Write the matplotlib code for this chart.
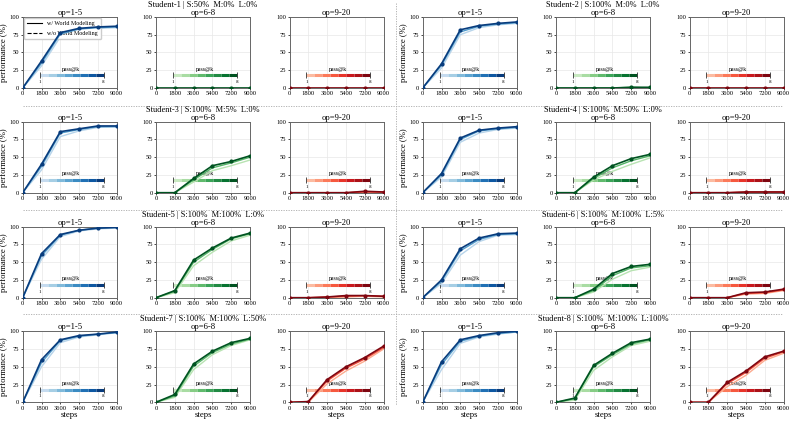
import matplotlib
matplotlib.use("Agg")
import matplotlib.pyplot as plt
from matplotlib.lines import Line2D
import numpy as np

plt.rcParams['font.family'] = ['Liberation Serif', 'DejaVu Serif']

steps = [0, 1800, 3600, 5400, 7200, 9000]
pass_k = [1, 4, 8]           # rows in each panel list: pass@1, pass@4, pass@8
op_titles = ["op=1-5", "op=6-8", "op=9-20"]
students = [
    "Student-1 | S:50%  M:0%  L:0%",
    "Student-2 | S:100%  M:0%  L:0%",
    "Student-3 | S:100%  M:5%  L:0%",
    "Student-4 | S:100%  M:50%  L:0%",
    "Student-5 | S:100%  M:100%  L:0%",
    "Student-6 | S:100%  M:100%  L:5%",
    "Student-7 | S:100%  M:100%  L:50%",
    "Student-8 | S:100%  M:100%  L:100%",
]

s1_op15 = [[0, 31, 72, 80, 84, 85], [0, 35, 76, 83, 85, 86], [0, 38, 78, 84, 86, 87]]
s1_op68 = [[0, 0, 0, 0, 0, 0], [0, 0, 0, 0, 0, 0], [0, 0, 0, 0, 0, 0]]
s1_op920 = [[0, 0, 0, 0, 0, 0], [0, 0, 0, 0, 0, 0], [0, 0, 0, 0, 0, 0]]

s2_op15 = [[0, 28, 75, 85, 89, 91], [0, 32, 79, 87, 90, 92], [0, 34, 82, 88, 91, 93]]
s2_op68 = [[0, 0, 0, 0, 0, 0], [0, 0, 0, 0, 1, 0], [0, 0, 0, 0, 1, 1]]
s2_op920 = [[0, 0, 0, 0, 0, 0], [0, 0, 0, 0, 0, 0], [0, 0, 0, 0, 0, 0]]

s3_op15 = [[0, 32, 79, 87, 92, 93], [0, 37, 84, 89, 93, 93], [0, 40, 86, 90, 94, 94]]
s3_op68 = [[0, 0, 15, 31, 38, 46], [0, 0, 18, 35, 42, 50], [0, 0, 20, 38, 44, 52]]
s3_op920 = [[0, 0, 0, 0, 1, 0], [0, 0, 0, 0, 1, 1], [0, 0, 0, 0, 2, 1]]

s4_op15 = [[0, 22, 71, 84, 89, 91], [0, 25, 75, 87, 90, 92], [0, 27, 77, 88, 91, 93]]
s4_op68 = [[0, 0, 18, 30, 40, 49], [0, 0, 20, 35, 45, 52], [0, 0, 22, 38, 48, 54]]
s4_op920 = [[0, 0, 0, 0, 1, 1], [0, 0, 0, 1, 1, 1], [0, 0, 0, 1, 1, 1]]

s5_op15 = [[0, 54, 86, 94, 97, 98], [0, 59, 88, 95, 98, 99], [0, 62, 89, 95, 98, 99]]
s5_op68 = [[0, 7, 45, 64, 80, 88], [0, 9, 50, 68, 83, 90], [0, 10, 53, 70, 84, 91]]
s5_op920 = [[0, 0, 0, 1, 2, 1], [0, 0, 1, 2, 3, 2], [0, 0, 1, 3, 3, 2]]

s6_op15 = [[0, 20, 60, 79, 88, 89], [0, 23, 66, 82, 89, 90], [0, 25, 69, 84, 90, 91]]
s6_op68 = [[0, 0, 8, 26, 38, 43], [0, 0, 10, 31, 42, 45], [0, 0, 12, 34, 44, 47]]
s6_op920 = [[0, 0, 0, 5, 6, 10], [0, 0, 0, 6, 7, 11], [0, 0, 0, 7, 8, 12]]

s7_op15 = [[0, 50, 84, 92, 95, 98], [0, 56, 87, 93, 96, 98], [0, 60, 88, 94, 96, 99]]
s7_op68 = [[0, 7, 46, 67, 80, 88], [0, 9, 51, 70, 82, 89], [0, 11, 54, 72, 84, 90]]
s7_op920 = [[0, 0, 26, 44, 58, 75], [0, 1, 30, 48, 61, 77], [0, 1, 32, 50, 63, 79]]

s8_op15 = [[0, 46, 83, 92, 96, 99], [0, 53, 86, 93, 97, 99], [0, 57, 88, 94, 98, 100]]
s8_op68 = [[0, 3, 45, 64, 80, 86], [0, 5, 50, 67, 82, 88], [0, 6, 52, 69, 84, 89]]
s8_op920 = [[0, 0, 22, 38, 59, 69], [0, 0, 26, 42, 62, 71], [0, 0, 28, 44, 64, 72]]

panels = [
    [s1_op15, s1_op68, s1_op920], [s2_op15, s2_op68, s2_op920],
    [s3_op15, s3_op68, s3_op920], [s4_op15, s4_op68, s4_op920],
    [s5_op15, s5_op68, s5_op920], [s6_op15, s6_op68, s6_op920],
    [s7_op15, s7_op68, s7_op920], [s8_op15, s8_op68, s8_op920],
]
cmaps = ["Blues", "Greens", "Reds"]

W, H = 793, 422
fig = plt.figure(figsize=(W / 100, H / 100), dpi=100)

col_left = [22.7, 156, 289.5]     # pixels, within one block
block_off = [0, 400]
row_top = [17, 121.7, 226.7, 331.3]
ax_w, ax_h = 94, 71


def px_axes(x, y, w, h):
    return fig.add_axes([x / W, 1 - (y + h) / H, w / W, h / H])


for s, name in enumerate(students):
    r, b = s // 2, s % 2
    for c in range(3):
        ax = px_axes(block_off[b] + col_left[c], row_top[r], ax_w, ax_h)
        cmap = plt.get_cmap(cmaps[c])
        data = panels[s][c]
        for k, vals in zip(pass_k, data):
            col = cmap(0.3 + 0.65 * (k - 1) / 7)
            ax.plot(steps, vals, color=col, lw=1.2 if k == 8 else 1.0,
                    marker="o", ms=2 if k == 8 else 0, zorder=3 + k)
        # pass@k colour strip
        seg = np.linspace(0.18, 0.86, 9)
        for i in range(8):
            ax.plot([seg[i], seg[i + 1]], [0.18, 0.18], transform=ax.transAxes,
                    color=cmap(0.25 + 0.7 * i / 7), lw=2.2,
                    solid_capstyle="butt", zorder=2)
        ax.plot([0.18, 0.86], [0.18, 0.18], transform=ax.transAxes, ls="none",
                marker="|", ms=5, mew=0.6, color="#333333", zorder=2)
        ax.text(0.52, 0.23, "pass@k", transform=ax.transAxes, ha="center",
                va="bottom", fontsize=4.2)
        ax.text(0.18, 0.11, "1", transform=ax.transAxes, ha="center",
                va="top", fontsize=3.6)
        ax.text(0.86, 0.11, "8", transform=ax.transAxes, ha="center",
                va="top", fontsize=3.6)

        ax.set_xlim(0, 9000)
        ax.set_ylim(0, 100)
        ax.set_xticks(steps)
        ax.set_yticks([0, 25, 50, 75, 100])
        ax.tick_params(labelsize=4.7, length=1.5, width=0.5, pad=1)
        ax.grid(True, color="#e8e8e8", lw=0.5)
        for sp in ax.spines.values():
            sp.set_color("#666666")
            sp.set_linewidth(0.7)
        ax.set_title(op_titles[c], fontsize=6.2, pad=1.5)
        if c == 0:
            ax.set_ylabel("performance (%)", fontsize=6.2, labelpad=1)
        if r == 3:
            ax.set_xlabel("steps", fontsize=6.2, labelpad=0.5)
        if s == 0 and c == 0:
            handles = [Line2D([], [], color="black", lw=0.8),
                       Line2D([], [], color="black", lw=0.8, ls="--")]
            ax.legend(handles, ["w/ World Modeling", "w/o World Modeling"],
                      loc="upper left", fontsize=4.3, framealpha=1,
                      handlelength=2.6, borderpad=0.5, labelspacing=0.7,
                      borderaxespad=0.2)
    # student title
    fig.text((block_off[b] + 203) / W, 1 - (row_top[r] - 12) / H, name,
             ha="center", va="center", fontsize=6.0)

# separators
for y in [106, 210, 314]:
    fig.add_artist(Line2D([23 / W, 783 / W], [1 - y / H, 1 - y / H],
                          color="#aaaaaa", lw=0.6, ls=(0, (1.5, 1.5))))
fig.add_artist(Line2D([396 / W, 396 / W], [1 - 3 / H, 1 - 405 / H],
                      color="#aaaaaa", lw=0.6, ls=(0, (1.5, 1.5))))

fig.savefig("out.png", dpi=100)
